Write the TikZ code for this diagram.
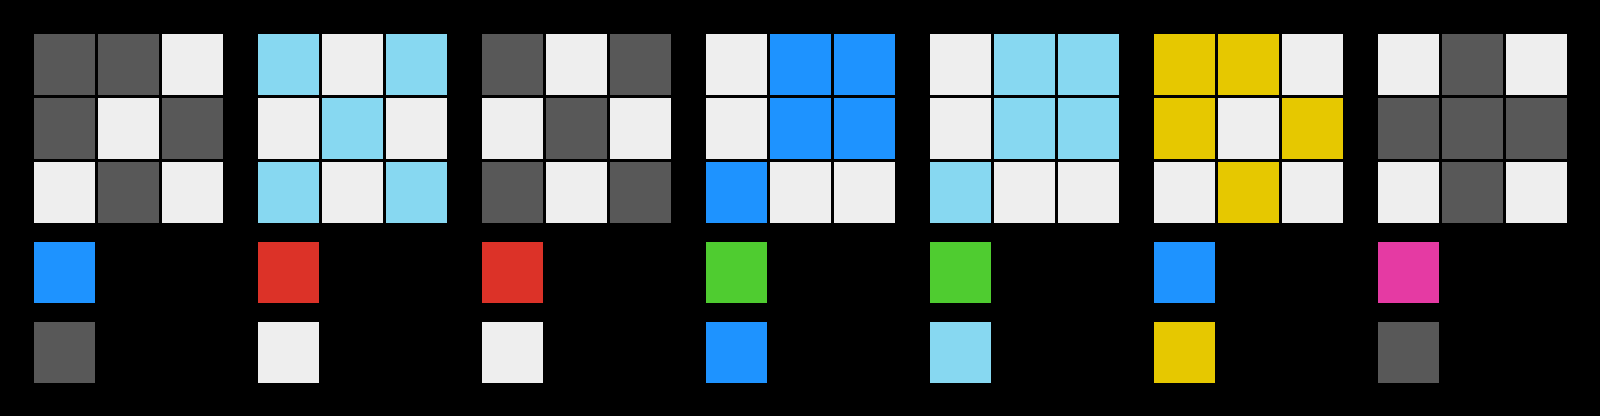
\documentclass[tikz,border=0pt]{standalone}
\usepackage{xcolor}
\definecolor{grey}{RGB}{88,88,88}
\definecolor{blank}{RGB}{238,238,238}
\definecolor{sky}{RGB}{135,216,241}
\definecolor{blue}{RGB}{30,147,255}
\definecolor{red}{RGB}{220,50,40}
\definecolor{green}{RGB}{79,204,48}
\definecolor{yellow}{RGB}{230,200,0}
\definecolor{magenta}{RGB}{229,58,163}
\tikzstyle{cell}=[rectangle, minimum size=0.953cm, inner sep=0pt, draw=none]
\tikzset{grey/.style={cell, fill=grey}}
\tikzset{blank/.style={cell, fill=blank}}
\tikzset{sky/.style={cell, fill=sky}}
\tikzset{blue/.style={cell, fill=blue}}
\tikzset{red/.style={cell, fill=red}}
\tikzset{green/.style={cell, fill=green}}
\tikzset{yellow/.style={cell, fill=yellow}}
\tikzset{magenta/.style={cell, fill=magenta}}
\begin{document}
\begin{tikzpicture}
  \fill[black] (0,0) rectangle (25,-6.5);
  \useasboundingbox (0,0) rectangle (25,-6.5);

  %% grid 1
  \draw (1.01,-1.01) node[grey] (A11) {};
  \draw (2.01,-1.01) node[grey] (A12) {};
  \draw (3.01,-1.01) node[blank] (A13) {};
  \draw (1.01,-2.01) node[grey] (A21) {};
  \draw (2.01,-2.01) node[blank] (A22) {};
  \draw (3.01,-2.01) node[grey] (A23) {};
  \draw (1.01,-3.01) node[blank] (A31) {};
  \draw (2.01,-3.01) node[grey] (A32) {};
  \draw (3.01,-3.01) node[blank] (A33) {};
  \draw (1.01,-4.26) node[blue] (Aa) {};
  \draw (1.01,-5.51) node[grey] (Ab) {};

  %% grid 2
  \draw (4.51,-1.01) node[sky] (B11) {};
  \draw (5.51,-1.01) node[blank] (B12) {};
  \draw (6.51,-1.01) node[sky] (B13) {};
  \draw (4.51,-2.01) node[blank] (B21) {};
  \draw (5.51,-2.01) node[sky] (B22) {};
  \draw (6.51,-2.01) node[blank] (B23) {};
  \draw (4.51,-3.01) node[sky] (B31) {};
  \draw (5.51,-3.01) node[blank] (B32) {};
  \draw (6.51,-3.01) node[sky] (B33) {};
  \draw (4.51,-4.26) node[red] (Ba) {};
  \draw (4.51,-5.51) node[blank] (Bb) {};

  %% grid 3
  \draw (8.01,-1.01) node[grey] (C11) {};
  \draw (9.01,-1.01) node[blank] (C12) {};
  \draw (10.01,-1.01) node[grey] (C13) {};
  \draw (8.01,-2.01) node[blank] (C21) {};
  \draw (9.01,-2.01) node[grey] (C22) {};
  \draw (10.01,-2.01) node[blank] (C23) {};
  \draw (8.01,-3.01) node[grey] (C31) {};
  \draw (9.01,-3.01) node[blank] (C32) {};
  \draw (10.01,-3.01) node[grey] (C33) {};
  \draw (8.01,-4.26) node[red] (Ca) {};
  \draw (8.01,-5.51) node[blank] (Cb) {};

  %% grid 4
  \draw (11.51,-1.01) node[blank] (D11) {};
  \draw (12.51,-1.01) node[blue] (D12) {};
  \draw (13.51,-1.01) node[blue] (D13) {};
  \draw (11.51,-2.01) node[blank] (D21) {};
  \draw (12.51,-2.01) node[blue] (D22) {};
  \draw (13.51,-2.01) node[blue] (D23) {};
  \draw (11.51,-3.01) node[blue] (D31) {};
  \draw (12.51,-3.01) node[blank] (D32) {};
  \draw (13.51,-3.01) node[blank] (D33) {};
  \draw (11.51,-4.26) node[green] (Da) {};
  \draw (11.51,-5.51) node[blue] (Db) {};

  %% grid 5
  \draw (15.01,-1.01) node[blank] (E11) {};
  \draw (16.01,-1.01) node[sky] (E12) {};
  \draw (17.01,-1.01) node[sky] (E13) {};
  \draw (15.01,-2.01) node[blank] (E21) {};
  \draw (16.01,-2.01) node[sky] (E22) {};
  \draw (17.01,-2.01) node[sky] (E23) {};
  \draw (15.01,-3.01) node[sky] (E31) {};
  \draw (16.01,-3.01) node[blank] (E32) {};
  \draw (17.01,-3.01) node[blank] (E33) {};
  \draw (15.01,-4.26) node[green] (Ea) {};
  \draw (15.01,-5.51) node[sky] (Eb) {};

  %% grid 6
  \draw (18.51,-1.01) node[yellow] (F11) {};
  \draw (19.51,-1.01) node[yellow] (F12) {};
  \draw (20.51,-1.01) node[blank] (F13) {};
  \draw (18.51,-2.01) node[yellow] (F21) {};
  \draw (19.51,-2.01) node[blank] (F22) {};
  \draw (20.51,-2.01) node[yellow] (F23) {};
  \draw (18.51,-3.01) node[blank] (F31) {};
  \draw (19.51,-3.01) node[yellow] (F32) {};
  \draw (20.51,-3.01) node[blank] (F33) {};
  \draw (18.51,-4.26) node[blue] (Fa) {};
  \draw (18.51,-5.51) node[yellow] (Fb) {};

  %% grid 7
  \draw (22.01,-1.01) node[blank] (G11) {};
  \draw (23.01,-1.01) node[grey] (G12) {};
  \draw (24.01,-1.01) node[blank] (G13) {};
  \draw (22.01,-2.01) node[grey] (G21) {};
  \draw (23.01,-2.01) node[grey] (G22) {};
  \draw (24.01,-2.01) node[grey] (G23) {};
  \draw (22.01,-3.01) node[blank] (G31) {};
  \draw (23.01,-3.01) node[grey] (G32) {};
  \draw (24.01,-3.01) node[blank] (G33) {};
  \draw (22.01,-4.26) node[magenta] (Ga) {};
  \draw (22.01,-5.51) node[grey] (Gb) {};
\end{tikzpicture}
\end{document}
